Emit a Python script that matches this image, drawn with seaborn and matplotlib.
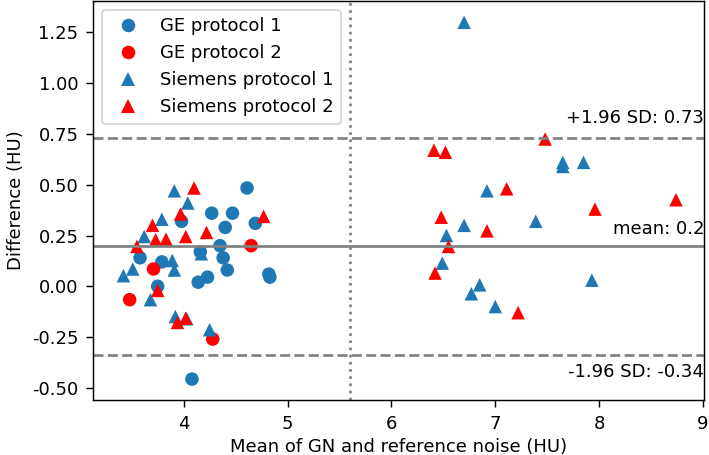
import numpy as np
import pandas as pd
import matplotlib
matplotlib.use("Agg")
import matplotlib.pyplot as plt
import seaborn as sns

# ---- data ----
ge1_x = [4.61, 4.27, 4.47, 3.98, 4.40, 4.69, 4.35, 4.16, 3.58, 3.79, 4.38, 4.42,
         4.14, 4.23, 4.82, 4.83, 3.75, 4.08]
ge1_y = [0.484, 0.36, 0.36, 0.32, 0.29, 0.31, 0.20, 0.17, 0.14, 0.12, 0.14, 0.08,
         0.02, 0.045, 0.06, 0.045, 0.0, -0.457]

ge2_x = [4.65, 3.71, 3.48, 4.28]
ge2_y = [0.20, 0.085, -0.066, -0.26]

sie1_x = [3.91, 4.04, 3.79, 3.62, 4.17, 3.89, 3.91, 3.51, 3.42, 3.68, 3.92, 4.03, 4.25,
          6.70, 7.65, 7.65, 7.85, 6.92, 7.39, 6.70, 6.53, 6.49, 7.93, 6.85, 6.77, 7.00]
sie1_y = [0.47, 0.41, 0.33, 0.245, 0.16, 0.127, 0.08, 0.085, 0.052, -0.066, -0.149, -0.16, -0.214,
          1.30, 0.61, 0.59, 0.61, 0.47, 0.32, 0.30, 0.25, 0.114, 0.03, 0.007, -0.037, -0.10]

sie2_x = [4.10, 3.97, 3.70, 4.77, 4.22, 4.02, 3.73, 3.83, 3.55, 3.75, 3.94, 4.02,
          6.41, 6.52, 7.48, 7.11, 8.74, 7.96, 6.48, 6.92, 6.55, 6.42, 7.22]
sie2_y = [0.484, 0.356, 0.30, 0.344, 0.265, 0.245, 0.229, 0.232, 0.196, -0.02, -0.178, -0.157,
          0.67, 0.66, 0.725, 0.48, 0.426, 0.38, 0.34, 0.273, 0.196, 0.065, -0.13]

groups = ["GE protocol 1", "GE protocol 2", "Siemens protocol 1", "Siemens protocol 2"]
mean_diff = 0.2
upper_loa = 0.73
lower_loa = -0.34
split_x = 5.6

df = pd.concat([
    pd.DataFrame({"x": ge1_x, "y": ge1_y, "group": groups[0]}),
    pd.DataFrame({"x": ge2_x, "y": ge2_y, "group": groups[1]}),
    pd.DataFrame({"x": sie1_x, "y": sie1_y, "group": groups[2]}),
    pd.DataFrame({"x": sie2_x, "y": sie2_y, "group": groups[3]}),
], ignore_index=True)

palette = {groups[0]: "#1f77b4", groups[1]: "red", groups[2]: "#1f77b4", groups[3]: "red"}
markers = {groups[0]: "o", groups[1]: "o", groups[2]: "^", groups[3]: "^"}

plt.rcParams["font.family"] = ["DejaVu Sans"]
plt.rcParams["font.size"] = 10

DPI = 130
fig = plt.figure(figsize=(709 / DPI, 455 / DPI), dpi=DPI)
ax = fig.add_axes([0.1316, 0.1209, 0.8614, 0.877])

sns.scatterplot(data=df, x="x", y="y", hue="group", style="group", hue_order=groups,
                style_order=groups, palette=palette, markers=markers, s=56,
                linewidth=0, ax=ax)

gray = "#808080"
ax.axhline(mean_diff, color=gray, lw=1.5, ls="-")
ax.axhline(upper_loa, color=gray, lw=1.5, ls="--")
ax.axhline(lower_loa, color=gray, lw=1.5, ls="--")
ax.axvline(split_x, color=gray, lw=1.5, ls=":")

trans = ax.get_yaxis_transform()
ax.annotate(f"+1.96 SD: {upper_loa}", xy=(1.0, upper_loa), xycoords=trans,
            xytext=(0, 11), textcoords="offset points", ha="right", va="center")
ax.annotate(f"mean: {mean_diff}", xy=(1.0, mean_diff), xycoords=trans,
            xytext=(0, 9), textcoords="offset points", ha="right", va="center")
ax.annotate(f"-1.96 SD: {lower_loa}", xy=(1.0, lower_loa), xycoords=trans,
            xytext=(0, -9.3), textcoords="offset points", ha="right", va="center")

ax.set_xlim(3.13, 9.01)
ax.set_ylim(-0.56, 1.405)
ax.set_xticks([4, 5, 6, 7, 8, 9])
ax.set_yticks([-0.5, -0.25, 0, 0.25, 0.5, 0.75, 1.0, 1.25])
ax.yaxis.set_major_formatter(matplotlib.ticker.FormatStrFormatter("%.2f"))
ax.tick_params(length=4, pad=4.2)
ax.set_xlabel("Mean of GN and reference noise (HU)", labelpad=3)
ax.set_ylabel("Difference (HU)", labelpad=4)

leg = ax.legend(loc="upper left", frameon=True)
leg.set_title(None)

fig.savefig("out.png", dpi=DPI)
